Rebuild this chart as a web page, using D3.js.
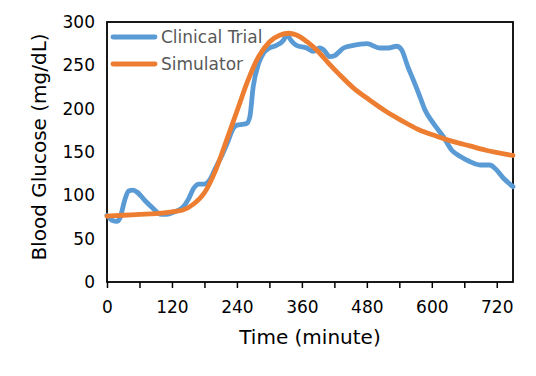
<!DOCTYPE html>
<html><head><meta charset="utf-8">
<script src="https://cdn.jsdelivr.net/npm/d3@7"></script>
<style>body{margin:0;background:#fff}svg{display:block}</style>
</head><body>
<svg id="c" width="536" height="376"></svg>
<script>
const trialTime = [0,10,18,24,33,40,48,55,70,85,100,110,125,140,150,160,170,180,190,200,210,222,233,240,250,258,264,270,280,289,300,313,326,332,341,350,369,381,393,400,412,420,437,455,480,504,520,535,544,556,566,578,587,603,621,637,652,670,689,707,717,732,750];
const trialBG   = [77,71,70,74,95,105,106,104,94,85,78,78,81,86,95,108,113,113,118,131,143,160,177,181,182,183,191,225,252,264,270,273,279,285,278,273,270,266,270,268,260,261,270,273,275,270,270,272,268,248,233,214,199,183,168,152,145,139,135,135,131,120,110];
const simTime = [0,30,60,90,120,140,160,180,200,220,240,260,280,300,320,335,350,370,390,410,430,455,485,515,545,575,610,640,670,700,750];
const simBG   = [76,77,78,79,81,83,90,103,128,162,197,232,260,277,285,287,285,277,266,252,239,224,210,197,186,176,168,162,157,152,146];
const xTicks = [0,60,120,180,240,300,360,420,480,540,600,660,720];
const xLabels = [0,120,240,360,480,600,720];
const yTicks = [0,50,100,150,200,250,300];
const seriesNames = ["Clinical Trial","Simulator"];
const colors = ["#5B9BD5","#ED7D31"];

const svg = d3.select("#c");
const L=107, R=513, T=22, B=282;
const x = d3.scaleLinear().domain([0,750]).range([L,R]);
const y = d3.scaleLinear().domain([0,300]).range([B,T]);
const font = "DejaVu Sans, sans-serif";

const xa = svg.append("g").attr("transform",`translate(0,${B})`)
  .call(d3.axisBottom(x).tickValues(xTicks).tickSize(6).tickSizeOuter(0).tickPadding(0)
    .tickFormat(d => xLabels.includes(d) ? d : ""));
xa.select(".domain").remove();
xa.selectAll(".tick line").attr("stroke","#000").attr("stroke-width",1.5);
xa.selectAll(".tick text").attr("font-family",font).attr("font-size",17).attr("fill","#000")
  .attr("y",31).attr("dy",0);

const ya = svg.append("g").attr("transform",`translate(${L},0)`)
  .call(d3.axisLeft(y).tickValues(yTicks).tickSize(0).tickPadding(12));
ya.select(".domain").remove();
ya.selectAll(".tick text").attr("font-family",font).attr("font-size",17).attr("fill","#000");

svg.append("rect").attr("x",L).attr("y",T).attr("width",R-L).attr("height",B-T)
  .attr("fill","none").attr("stroke","#000").attr("stroke-width",1.8);

const line = d3.line().x(d=>x(d[0])).y(d=>y(d[1])).curve(d3.curveMonotoneX);
svg.append("path").datum(trialTime.map((t,i)=>[t,trialBG[i]]))
  .attr("d",line).attr("fill","none").attr("stroke",colors[0]).attr("stroke-width",4.8).attr("stroke-linejoin","round").attr("stroke-linecap","round");
svg.append("path").datum(simTime.map((t,i)=>[t,simBG[i]]))
  .attr("d",line).attr("fill","none").attr("stroke",colors[1]).attr("stroke-width",4.8).attr("stroke-linejoin","round").attr("stroke-linecap","round");

seriesNames.forEach((n,i)=>{
  const ly = 37 + i*27;
  svg.append("line").attr("x1",113).attr("x2",155).attr("y1",ly).attr("y2",ly)
    .attr("stroke",colors[i]).attr("stroke-width",4.8).attr("stroke-linecap","round");
  svg.append("text").attr("x",161).attr("y",ly).attr("dy","0.35em").text(n)
    .attr("font-family",font).attr("font-size",17).attr("fill","#595959");
});

svg.append("text").attr("x",(L+R)/2).attr("y",344).attr("text-anchor","middle")
  .attr("font-family",font).attr("font-size",20).attr("fill","#000").text("Time (minute)");
svg.append("text").attr("transform","translate(46,147) rotate(-90)").attr("text-anchor","middle")
  .attr("font-family",font).attr("font-size",20).attr("fill","#000").text("Blood Glucose (mg/dL)");
</script>
</body></html>
